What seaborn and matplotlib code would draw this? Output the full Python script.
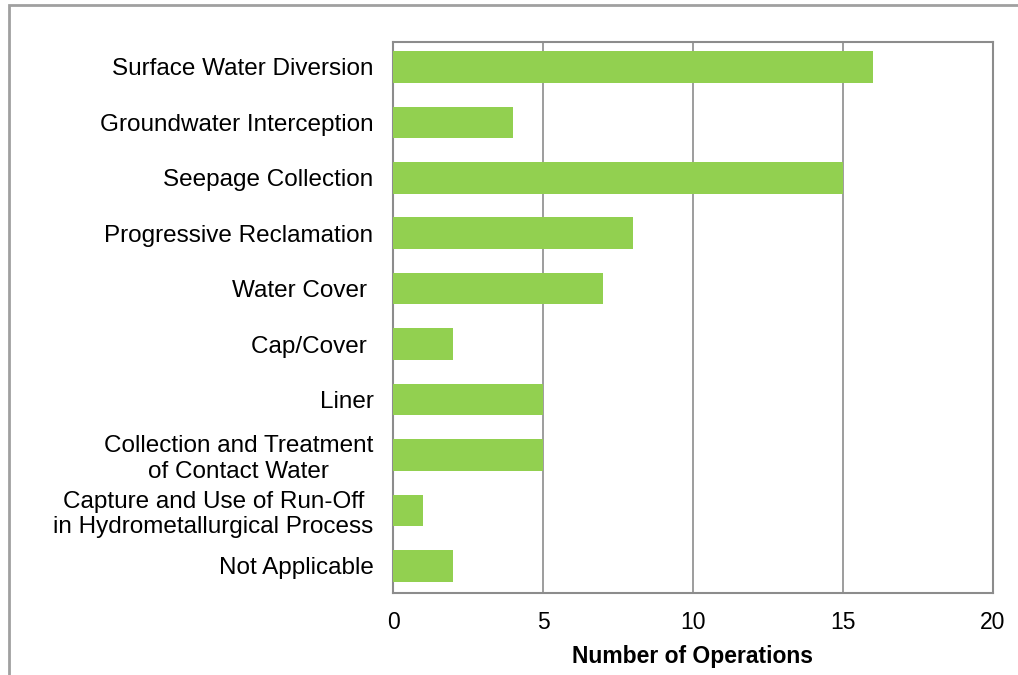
import matplotlib
matplotlib.use("Agg")
import matplotlib.pyplot as plt
import seaborn as sns
import pandas as pd
from matplotlib.patches import Rectangle

categories = [
    "Surface Water Diversion",
    "Groundwater Interception",
    "Seepage Collection",
    "Progressive Reclamation",
    "Water Cover ",
    "Cap/Cover ",
    "Liner",
    "Collection and Treatment\nof Contact Water",
    "Capture and Use of Run-Off\nin Hydrometallurgical Process",
    "Not Applicable",
]
operations = [16, 4, 15, 8, 7, 2, 5, 5, 1, 2]
x_ticks = [0, 5, 10, 15, 20]

df = pd.DataFrame({"category": categories, "operations": operations})

sns.set_style("white")
plt.rcParams["font.family"] = ["Liberation Sans", "DejaVu Sans"]
plt.rcParams["text.color"] = "black"

fig = plt.figure(figsize=(10.18, 6.75), dpi=100)
ax = fig.add_axes([393 / 1018, 1 - 593 / 675, 600 / 1018, 551 / 675])

sns.barplot(data=df, x="operations", y="category", color="#92D050",
            saturation=1, width=0.57, linewidth=0, ax=ax, zorder=3)

ax.set_xlim(0, 20)
ax.set_ylim(9.49, -0.45)
ax.set_xticks(x_ticks)
ax.xaxis.grid(True, color="#8c8c8c", linewidth=1.2, zorder=0)
ax.set_axisbelow(True)
for s in ax.spines.values():
    s.set_color("#8c8c8c")
    s.set_linewidth(1.5)
ax.tick_params(axis="x", length=0, labelsize=16.5, labelcolor="black", pad=13)
ax.tick_params(axis="y", length=0, labelsize=17.5, labelcolor="black", pad=14)
for t in ax.get_yticklabels():
    t.set_horizontalalignment("right")
    t.set_multialignment("center")
    t.set_linespacing(1.2)
ax.set_ylabel("")
ax.set_xlabel("Number of Operations", fontsize=16.5, fontweight="bold",
              color="black", labelpad=8)

# outer chart-area border
fig.patches.append(Rectangle((9 / 1018, -0.05), 1.1, 1 - 5 / 675 + 0.05,
                             transform=fig.transFigure, fill=False,
                             edgecolor="#a0a0a0", linewidth=2))

fig.savefig("out.png", dpi=100)
